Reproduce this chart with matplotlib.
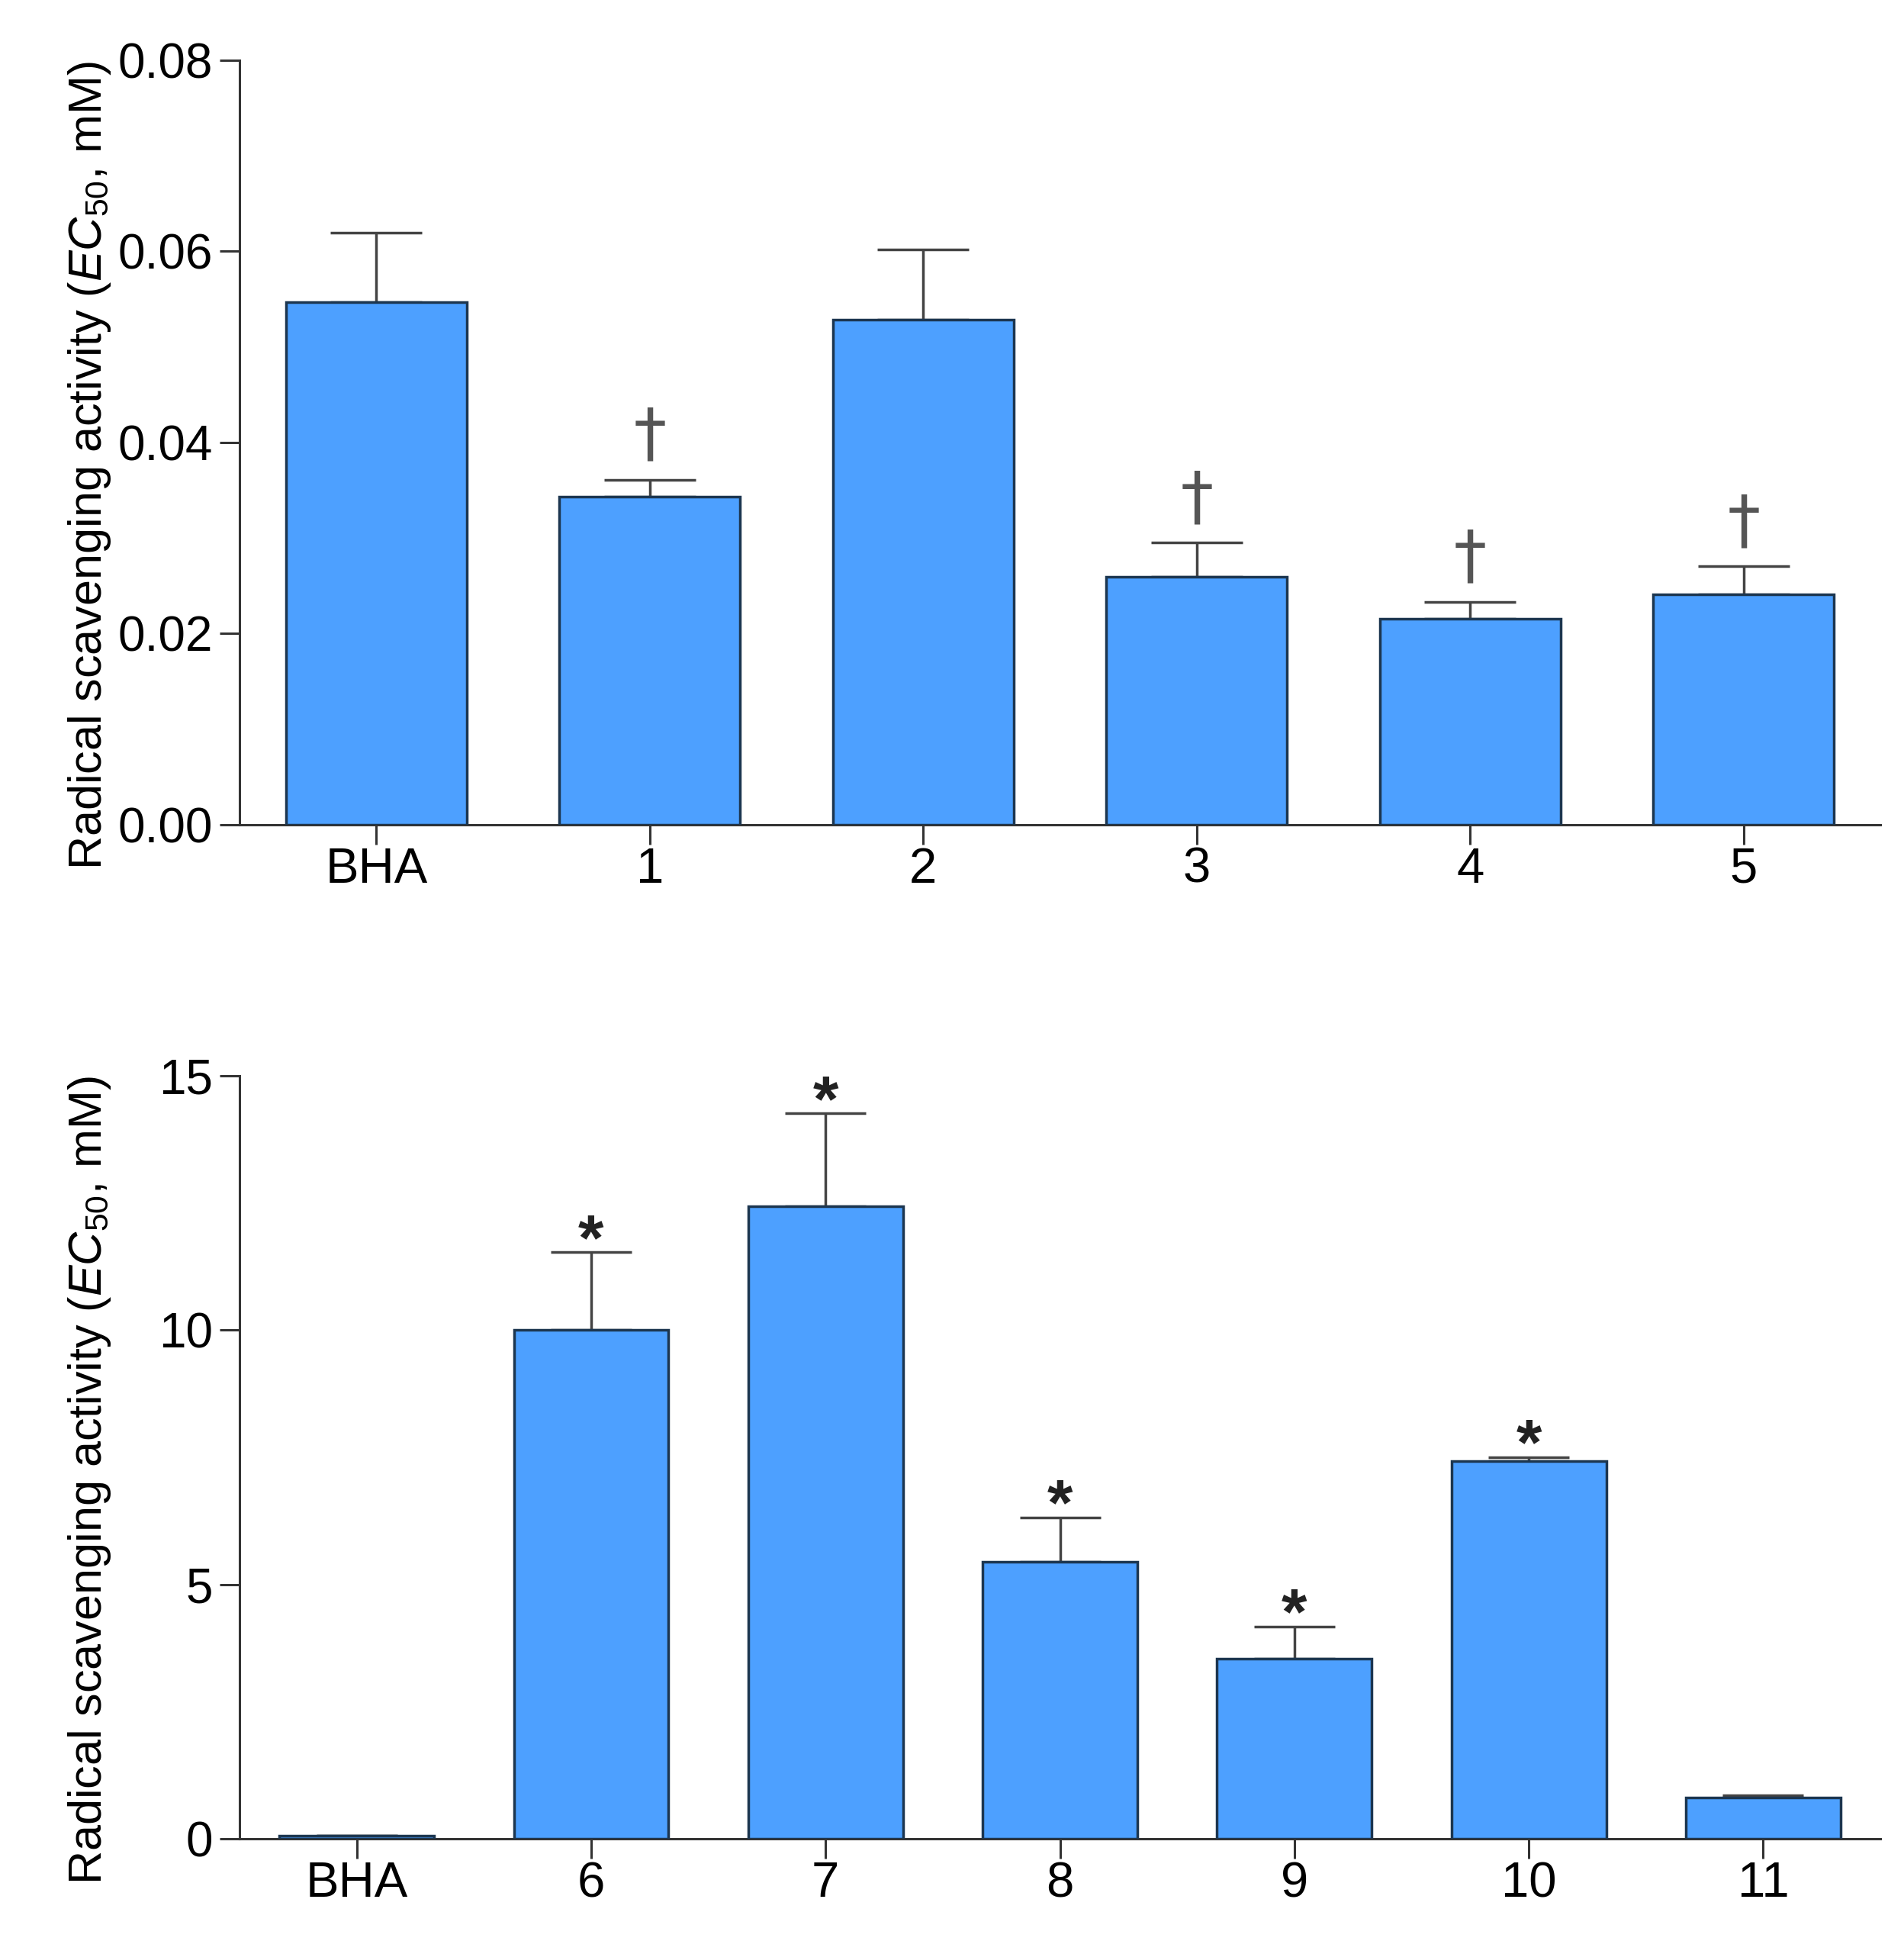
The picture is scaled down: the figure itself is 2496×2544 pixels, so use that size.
import matplotlib
matplotlib.use('Agg')
import matplotlib.pyplot as plt
import numpy as np

plt.rcParams['font.family'] = ['Liberation Sans', 'DejaVu Sans']
plt.rcParams['mathtext.fontset'] = 'custom'
plt.rcParams['mathtext.rm'] = 'Liberation Sans'
plt.rcParams['mathtext.it'] = 'Liberation Sans:italic'

# upper panel: BHA and compounds 1-5 (EC50, mM)
top_labels = ['BHA', '1', '2', '3', '4', '5']
top_means = [0.0547, 0.0343, 0.0528, 0.0259, 0.0215, 0.0241]
top_errors = [0.0072, 0.0018, 0.0074, 0.0036, 0.0018, 0.0029]
top_marks = ['', '\u2020', '', '\u2020', '\u2020', '\u2020']

# lower panel: BHA and compounds 6-11 (EC50, mM)
bottom_labels = ['BHA', '6', '7', '8', '9', '10', '11']
bottom_means = [0.055, 10.01, 12.43, 5.45, 3.54, 7.43, 0.81]
bottom_errors = [0.0, 1.52, 1.83, 0.87, 0.63, 0.07, 0.05]
bottom_marks = ['', '*', '*', '*', '*', '*', '']

bar_color = '#4DA0FF'
edge_color = '#1C3650'
axis_color = '#333333'
err_color = '#444444'
ylabel = r'Radical scavenging activity ($\mathit{EC}_{\mathrm{50}}$, mM)'

fig = plt.figure(figsize=(24.96, 25.44), dpi=100)
ax1 = fig.add_axes([0.1258, 0.5752, 0.8618, 0.3939])
ax2 = fig.add_axes([0.1258, 0.0527, 0.8618, 0.3931])


def draw_panel(ax, labels, means, errors, marks, capsize, mark_font):
    x = np.arange(len(labels))
    ax.bar(x, means, width=0.66, color=bar_color, edgecolor=edge_color,
           linewidth=2.5, zorder=3)
    ax.errorbar(x, means, yerr=[np.zeros(len(errors)), errors], fmt='none',
                ecolor=err_color, elinewidth=2.5, capsize=capsize, capthick=2.5,
                zorder=2)
    for xi, m, e, s in zip(x, means, errors, marks):
        if s:
            ax.annotate(s, (xi, m + e), xytext=(0, mark_font['offset']),
                        textcoords='offset points', ha='center', va='baseline',
                        fontsize=mark_font['size'], color=mark_font['color'],
                        fontweight=mark_font['weight'],
                        family=mark_font['family'])
    ax.set_xticks(x)
    ax.set_xticklabels(labels)
    ax.set_xlim(-0.5, len(labels) - 0.5)
    for side in ['top', 'right']:
        ax.spines[side].set_visible(False)
    for side in ['left', 'bottom']:
        ax.spines[side].set_linewidth(2.2)
        ax.spines[side].set_color(axis_color)
    ax.tick_params(axis='both', direction='out', length=19, width=2.2,
                   color=axis_color)
    ax.tick_params(axis='y', pad=6, labelsize=46)
    ax.tick_params(axis='x', pad=2, labelsize=47)
    ax.set_ylabel(ylabel, fontsize=44)
    ax.yaxis.set_label_coords(-0.077, 0.47)


draw_panel(ax1, top_labels, top_means, top_errors, top_marks, capsize=43,
           mark_font={'size': 62, 'offset': 23, 'color': '#555555',
                      'weight': 'normal', 'family': ['DejaVu Sans']})
ax1.set_ylim(0, 0.08)
ax1.set_yticks([0, 0.02, 0.04, 0.06, 0.08])
ax1.set_yticklabels(['0.00', '0.02', '0.04', '0.06', '0.08'])

draw_panel(ax2, bottom_labels, bottom_means, bottom_errors, bottom_marks, capsize=38,
           mark_font={'size': 62, 'offset': -7, 'color': '#222222',
                      'weight': 'bold', 'family': ['Liberation Sans']})
ax2.set_ylim(0, 15)
ax2.set_yticks([0, 5, 10, 15])

fig.savefig('out.png', dpi=100)
